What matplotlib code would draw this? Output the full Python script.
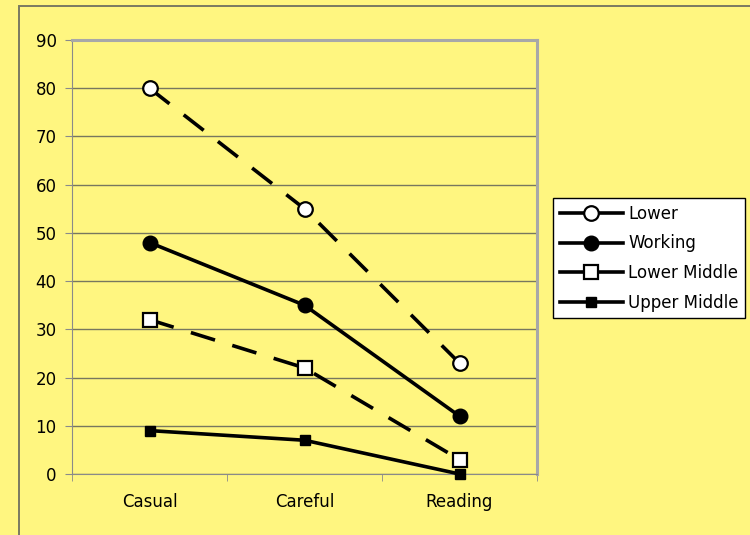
import matplotlib.pyplot as plt
from matplotlib.lines import Line2D
from matplotlib.patches import Rectangle

styles = ['Casual', 'Careful', 'Reading']
lower = [80, 55, 23]
working = [48, 35, 12]
lower_middle = [32, 22, 3]
upper_middle = [9, 7, 0]
names = ['Lower', 'Working', 'Lower Middle', 'Upper Middle']

bg = '#FFF680'
plt.rcParams['font.family'] = 'DejaVu Sans'

fig = plt.figure(figsize=(7.5, 5.35), dpi=100, facecolor=bg)
# outer chart border
fig.patches.append(Rectangle((19 / 750, -0.1), 2, 1.1 - 6 / 535, transform=fig.transFigure,
                             fill=False, edgecolor='#7a7a62', lw=1.4))

ax = fig.add_axes([72 / 750, 61 / 535, 465 / 750, 434 / 535])
ax.set_facecolor(bg)
x = range(len(styles))

lw = 2.6
dash = (0, (7, 5))
ax.plot(x, lower, color='black', lw=lw, linestyle=dash, marker='o', ms=10.5,
        mfc='white', mec='black', mew=1.6, zorder=3)
ax.plot(x, working, color='black', lw=lw, marker='o', ms=10.5,
        mfc='black', mec='black', zorder=3)
ax.plot(x, lower_middle, color='black', lw=lw, linestyle=dash, marker='s', ms=10,
        mfc='white', mec='black', mew=1.6, zorder=3)
ax.plot(x, upper_middle, color='black', lw=lw, marker='s', ms=7,
        mfc='black', mec='black', zorder=4, clip_on=False)

ax.set_xlim(-0.5, 2.5)
ax.set_ylim(0, 90)
ax.set_yticks(range(0, 91, 10))
ax.yaxis.grid(True, color='#77775f', lw=1)
ax.set_axisbelow(True)

ax.set_xticks(list(x))
ax.set_xticklabels(styles)
ax.set_xticks([-0.5, 0.5, 1.5, 2.5], minor=True)
ax.tick_params(axis='x', which='major', length=0, pad=14, labelsize=12)
ax.tick_params(axis='x', which='minor', length=5, color='#8a8a8a', direction='out')
ax.tick_params(axis='y', length=5, color='#8a8a8a', labelsize=12, pad=6)

for side in ['top', 'right']:
    ax.spines[side].set_color('#a8a8a8')
    ax.spines[side].set_linewidth(2.2)
ax.spines['left'].set_color('#8a8a8a')
ax.spines['bottom'].set_color('#8a8a8a')

handles = [
    Line2D([], [], color='black', lw=lw, marker='o', ms=10.5, mfc='white', mew=1.6),
    Line2D([], [], color='black', lw=lw, marker='o', ms=10.5, mfc='black'),
    Line2D([], [], color='black', lw=lw, marker='s', ms=10, mfc='white', mew=1.6),
    Line2D([], [], color='black', lw=lw, marker='s', ms=7, mfc='black'),
]
leg = fig.legend(handles, names, loc='upper left', bbox_to_anchor=(553 / 750, 1 - 198 / 535),
                 fontsize=12, frameon=True, fancybox=False, edgecolor='black',
                 facecolor='white', framealpha=1, handlelength=3.8, handletextpad=0.3,
                 borderpad=0.4, labelspacing=0.7, borderaxespad=0)
leg.get_frame().set_linewidth(1)

fig.savefig('out.png', dpi=100, facecolor=bg)
